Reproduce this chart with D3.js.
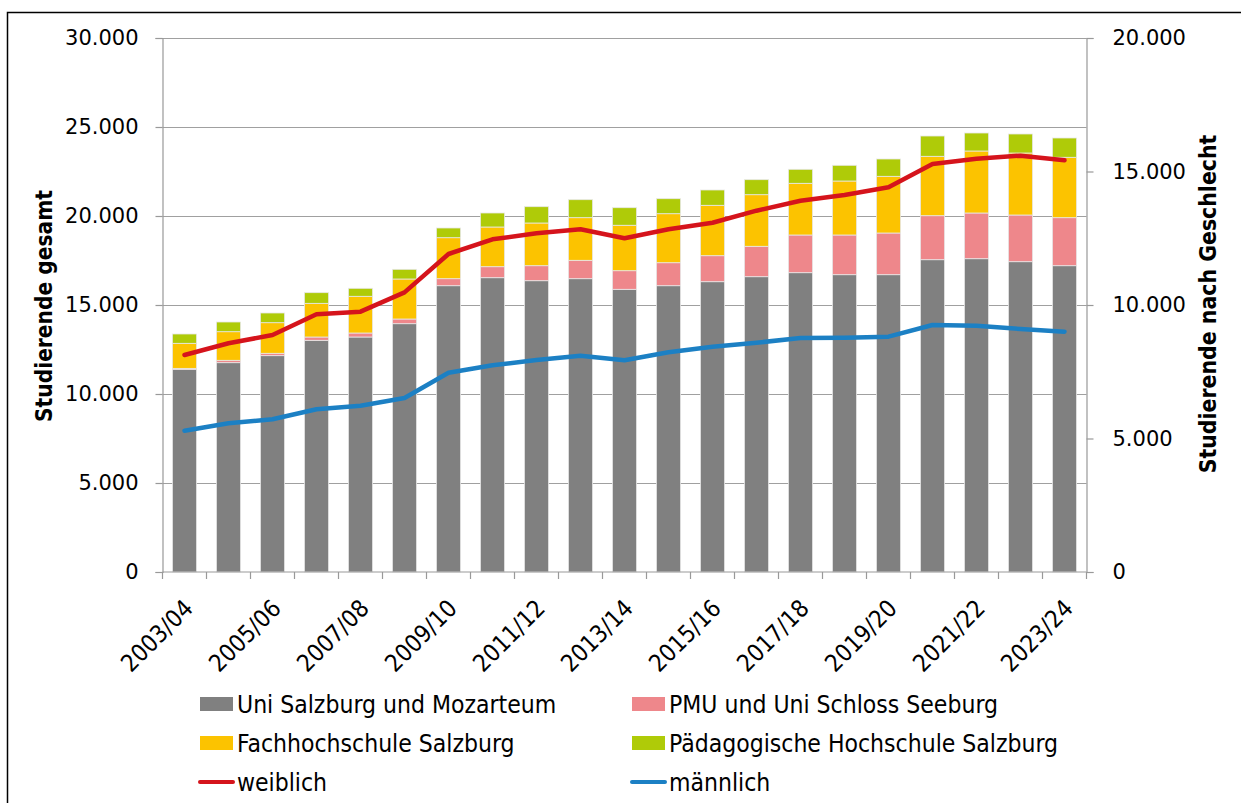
<!DOCTYPE html>
<html>
<head>
<meta charset="utf-8">
<script src="https://cdn.jsdelivr.net/npm/d3@7"></script>
<style>
  body { margin: 0; background: #fff; }
  svg text { fill: #000; }
</style>
</head>
<body>
<div id="chart"></div>
<script>
// Data
const years = ["2003/04","2004/05","2005/06","2006/07","2007/08","2008/09","2009/10","2010/11","2011/12","2012/13",
  "2013/14","2014/15","2015/16","2016/17","2017/18","2018/19","2019/20","2020/21","2021/22","2022/23","2023/24"];
const uniSalzburg = [11390,11760,12154,13017,13202,13950,16084,16534,16365,16478,15882,16084,16309,16590,16815,16703,16703,17545,17601,17433,17208];
const pmu = [50,133,133,185,225,263,394,618,843,1033,1045,1292,1461,1708,2118,2230,2342,2472,2568,2623,2698];
const fh = [1408,1607,1719,1892,2062,2248,2303,2230,2399,2395,2553,2753,2831,2899,2904,3033,3185,3337,3483,3483,3392];
const phs = [523,545,545,598,449,543,545,787,916,1010,986,843,860,843,786,882,972,1140,1011,1068,1084];
const weiblich = [8127,8566,8876,9652,9750,10474,11910,12461,12685,12835,12498,12835,13082,13532,13907,14120,14408,15281,15480,15592,15419];
const maennlich = [5292,5569,5719,6094,6230,6517,7464,7742,7940,8101,7929,8228,8438,8588,8764,8775,8813,9251,9225,9101,9000];
const leftTicks = [0,5000,10000,15000,20000,25000,30000];
const rightTicks = [0,5000,10000,15000,20000];

const barSeries = [
  {key: "uni", name: "Uni Salzburg und Mozarteum", values: uniSalzburg, color: "#808080"},
  {key: "pmu", name: "PMU und Uni Schloss Seeburg", values: pmu, color: "#ee878b"},
  {key: "fh", name: "Fachhochschule Salzburg", values: fh, color: "#fcc300"},
  {key: "ph", name: "Pädagogische Hochschule Salzburg", values: phs, color: "#afcb08"}
];
const lineSeries = [
  {name: "weiblich", values: weiblich, color: "#d5141c"},
  {name: "männlich", values: maennlich, color: "#1c80c4"}
];

const width = 1241, height = 803;
const plot = {left: 162.5, right: 1086.5, top: 38, bottom: 572};
const fmt = d3.format(",d");
const deFmt = d => fmt(d).replace(/,/g, ".");

const svg = d3.select("#chart").append("svg")
  .attr("width", width).attr("height", height)
  .style("font-family", "'DejaVu Sans', sans-serif");

// outer frame (top and left visible)
svg.append("path")
  .attr("d", `M7.5,${height} V12.5 H${width}`)
  .attr("fill", "none").attr("stroke", "#000").attr("stroke-width", 1.5);

const x = d3.scaleBand().domain(years).range([plot.left, plot.right]).paddingInner(0.45).paddingOuter(0.225);
const y = d3.scaleLinear().domain([0, 30000]).range([plot.bottom, plot.top]);
const y2 = d3.scaleLinear().domain([0, 20000]).range([plot.bottom, plot.top]);

// gridlines
svg.append("g").selectAll("line")
  .data(leftTicks.filter(d => d > 0))
  .join("line")
  .attr("x1", plot.left).attr("x2", plot.right)
  .attr("y1", d => Math.round(y(d)) + 0.5).attr("y2", d => Math.round(y(d)) + 0.5)
  .attr("stroke", "#a0a0a0").attr("stroke-width", 1.2);

// stacked bars
const table = years.map((yr, i) => {
  const row = {year: yr};
  barSeries.forEach(s => row[s.key] = s.values[i]);
  return row;
});
const stack = d3.stack().keys(barSeries.map(s => s.key))(table);

svg.append("g").selectAll("g")
  .data(stack)
  .join("g")
  .attr("fill", (d, i) => barSeries[i].color)
  .selectAll("rect")
  .data(d => d)
  .join("rect")
  .attr("x", d => x(d.data.year))
  .attr("width", x.bandwidth())
  .attr("y", d => y(d[1]))
  .attr("height", d => y(d[0]) - y(d[1]))
  .attr("stroke", "#e8e8e8").attr("stroke-width", 0.8);

// axes
const axisColor = "#999";
const leftAxis = svg.append("g")
  .attr("transform", `translate(${plot.left},0)`)
  .call(d3.axisLeft(y).tickValues(leftTicks).tickSize(7).tickPadding(17).tickFormat(deFmt));
const rightAxis = svg.append("g")
  .attr("transform", `translate(${plot.right},0)`)
  .call(d3.axisRight(y2).tickValues(rightTicks).tickSize(7).tickPadding(19).tickFormat(deFmt));
[leftAxis, rightAxis].forEach(a => {
  a.select(".domain").attr("stroke", axisColor).attr("stroke-width", 1.2);
  a.selectAll(".tick line").attr("stroke", axisColor).attr("stroke-width", 1.2);
  a.selectAll(".tick text").attr("font-size", 21).attr("font-family", "'DejaVu Sans', sans-serif").attr("fill", "#000");
});

// category axis
const xAxis = svg.append("g").attr("transform", `translate(0,${plot.bottom})`);
xAxis.append("line").attr("x1", plot.left).attr("x2", plot.right)
  .attr("stroke", axisColor).attr("stroke-width", 1.2);
const step = x.step();
xAxis.selectAll(".ctick")
  .data(d3.range(years.length + 1))
  .join("line")
  .attr("x1", i => plot.left + i * step).attr("x2", i => plot.left + i * step)
  .attr("y1", 0).attr("y2", 7)
  .attr("stroke", axisColor).attr("stroke-width", 1.2);
xAxis.selectAll("text")
  .data(years.filter((d, i) => i % 2 === 0))
  .join("text")
  .attr("transform", d => `translate(${x(d) + x.bandwidth() / 2 - 2},${26}) rotate(-45)`)
  .attr("text-anchor", "end")
  .attr("dy", "0.7em")
  .attr("font-size", 24)
  .attr("font-family", "'DejaVu Sans Condensed', sans-serif")
  .text(d => d);

// lines
const line = d3.line()
  .x((d, i) => x(years[i]) + x.bandwidth() / 2)
  .y(d => y2(d));
svg.append("g").selectAll("path")
  .data(lineSeries)
  .join("path")
  .attr("d", d => line(d.values))
  .attr("fill", "none")
  .attr("stroke", d => d.color)
  .attr("stroke-width", 4.5)
  .attr("stroke-linejoin", "round")
  .attr("stroke-linecap", "round");

// axis titles
svg.append("text")
  .attr("transform", `translate(52,306) rotate(-90)`)
  .attr("text-anchor", "middle")
  .attr("font-size", 22.5).attr("font-weight", "bold")
  .attr("font-family", "'DejaVu Sans Condensed', sans-serif")
  .text("Studierende gesamt");
svg.append("text")
  .attr("transform", `translate(1216,304) rotate(-90)`)
  .attr("text-anchor", "middle")
  .attr("font-size", 22.8).attr("font-weight", "bold")
  .attr("font-family", "'DejaVu Sans Condensed', sans-serif")
  .text("Studierende nach Geschlecht");

// legend
const legendItems = [
  {name: barSeries[0].name, color: barSeries[0].color, type: "rect", col: 0, row: 0},
  {name: barSeries[1].name, color: barSeries[1].color, type: "rect", col: 1, row: 0},
  {name: barSeries[2].name, color: barSeries[2].color, type: "rect", col: 0, row: 1},
  {name: barSeries[3].name, color: barSeries[3].color, type: "rect", col: 1, row: 1},
  {name: lineSeries[0].name, color: lineSeries[0].color, type: "line", col: 0, row: 2},
  {name: lineSeries[1].name, color: lineSeries[1].color, type: "line", col: 1, row: 2}
];
const legend = svg.append("g");
const li = legend.selectAll("g")
  .data(legendItems)
  .join("g")
  .attr("transform", d => `translate(${d.col === 0 ? 200 : 632},${704 + d.row * 39})`);
li.filter(d => d.type === "rect").append("rect")
  .attr("x", 0).attr("y", -7).attr("width", 33).attr("height", 14)
  .attr("fill", d => d.color);
li.filter(d => d.type === "line").append("line")
  .attr("x1", 0).attr("x2", 33).attr("y1", 0).attr("y2", 0)
  .attr("stroke", d => d.color).attr("stroke-width", 4).attr("stroke-linecap", "round");
li.append("text")
  .attr("x", 37).attr("y", 0).attr("dy", "0.36em")
  .attr("font-size", 24.5)
  .attr("font-family", "'DejaVu Sans Condensed', sans-serif")
  .text(d => d.name);
</script>
</body>
</html>
